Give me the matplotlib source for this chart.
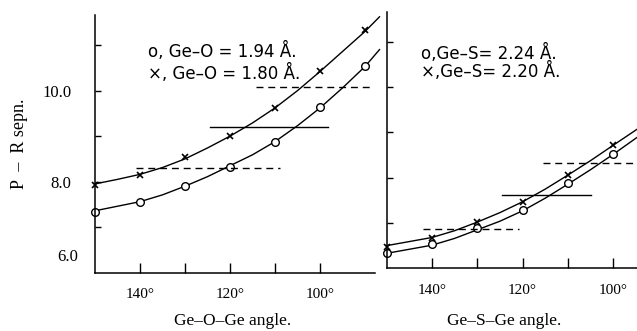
import matplotlib.pyplot as plt

# Ge-O-Ge panel: markers
geo_angle = [150, 140, 130, 120, 110, 100, 90]
geo_194 = [7.34, 7.56, 7.91, 8.33, 8.88, 9.64, 10.53]
geo_180 = [7.93, 8.15, 8.54, 9.00, 9.61, 10.42, 11.32]
# smooth curves
geo_curve_angle = [150, 145, 140, 135, 130, 125, 120, 115, 110, 105, 100, 95, 90, 86.8]
geo_curve_194 = [7.36, 7.46, 7.56, 7.71, 7.90, 8.11, 8.35, 8.59, 8.88, 9.23, 9.62,
                 10.06, 10.53, 10.90]
geo_curve_180 = [7.95, 8.05, 8.16, 8.31, 8.50, 8.74, 9.00, 9.29, 9.62, 10.00, 10.42,
                 10.86, 11.30, 11.62]
# horizontal levels (value, from angle, to angle)
geo_level = [8.31, 9.21, 10.07]
geo_level_from = [141, 124.4, 114.3]
geo_level_to = [109, 98.2, 88.9]

# Ge-S-Ge panel
ges_angle = [150, 140, 130, 120, 110, 100]
ges_224 = [6.33, 6.54, 6.88, 7.29, 7.89, 8.52]
ges_220 = [6.48, 6.68, 7.03, 7.47, 8.06, 8.72]
ges_curve_angle = [150, 145, 140, 135, 130, 125, 120, 115, 110, 105, 100, 94.8]
ges_curve_224 = [6.33, 6.42, 6.51, 6.66, 6.85, 7.04, 7.27, 7.55, 7.86, 8.18, 8.52, 8.89]
ges_curve_220 = [6.50, 6.59, 6.68, 6.83, 7.02, 7.23, 7.47, 7.75, 8.06, 8.38, 8.72, 9.07]
ges_level = [6.86, 7.62, 8.33]
ges_level_from = [141.9, 124.6, 115.6]
ges_level_to = [120.7, 105, 94.8]

W, H = 637, 331
fig = plt.figure(figsize=(W / 100, H / 100), dpi=100)

serif = 'Liberation Serif'
sans = 'DejaVu Sans'

ax1 = fig.add_axes([95 / W, 1 - 272.7 / H, 280 / W, 257.7 / H])
ax2 = fig.add_axes([386.5 / W, 1 - 268.3 / H, 250.5 / W, 256.3 / H])

level_styles = [(0, (5, 3.5)), '-', (0, (5, 3.5))]


def panel(ax, ang, v1, v2, cang, c1, c2, lev, lfrom, lto, xmin):
    ax.plot(cang, c1, color='black', lw=1.0, clip_on=False)
    ax.plot(cang, c2, color='black', lw=1.0, clip_on=False)
    ax.plot(ang, v1, ls='none', marker='o', ms=5.5, mfc='white', mec='black',
            mew=1.0, clip_on=False)
    ax.plot(ang, v2, ls='none', marker='x', ms=5, mec='black', mew=1.2,
            clip_on=False)
    for y, a, b, st in zip(lev, lfrom, lto, level_styles):
        ax.plot([a, b], [y, y], color='black', lw=1.0, ls=st, clip_on=False)
    ax.set_xlim(150, xmin)
    ax.set_ylim(6.0, 11.66)
    ax.spines['top'].set_visible(False)
    ax.spines['right'].set_visible(False)
    for s in ('left', 'bottom'):
        ax.spines[s].set_linewidth(1.1)
    ax.set_xticks([140, 130, 120, 110, 100])
    ax.set_xticklabels(['140°', '', '120°', '', '100°'], family=serif, fontsize=11)
    ax.set_yticks([7, 8, 9, 10, 11])
    ax.tick_params(axis='x', direction='in', length=7, width=1.0, pad=11)
    ax.tick_params(axis='y', direction='in', length=4, width=1.0, pad=17)


panel(ax1, geo_angle, geo_194, geo_180, geo_curve_angle, geo_curve_194,
      geo_curve_180, geo_level, geo_level_from, geo_level_to, 87.8)
panel(ax2, ges_angle, ges_224, ges_220, ges_curve_angle, ges_curve_224,
      ges_curve_220, ges_level, ges_level_from, ges_level_to, 94.8)

ax1.set_yticklabels(['', '8.0', '', '10.0', ''], family=serif, fontsize=12)
ax1.text(-17 / 280, 6.35, '6.0', transform=ax1.get_yaxis_transform(),
         ha='right', va='center', family=serif, fontsize=12)
ax2.set_yticklabels([])

ax1.set_ylabel('P  –  R sepn.', family=serif, fontsize=13)
ax1.yaxis.set_label_coords(-67 / 280, 0.5)
ax1.set_xlabel('Ge–O–Ge angle.', family=serif, fontsize=12.5)
ax1.xaxis.set_label_coords(0.49, -40 / 257.7)
ax2.set_xlabel('Ge–S–Ge angle.', family=serif, fontsize=12.5)
ax2.xaxis.set_label_coords(0.47, -44.5 / 256.3)

legend_size = 12
fig.text(148 / W, 1 - 51.7 / H, 'o, Ge–O = 1.94 Å.', family=sans, fontsize=legend_size,
         va='center', ha='left')
fig.text(148 / W, 1 - 73.3 / H, '×, Ge–O = 1.80 Å.', family=sans, fontsize=legend_size,
         va='center', ha='left')
fig.text(421 / W, 1 - 53.3 / H, 'o,Ge–S= 2.24 Å.', family=sans, fontsize=legend_size,
         va='center', ha='left')
fig.text(421 / W, 1 - 71.7 / H, '×,Ge–S= 2.20 Å.', family=sans, fontsize=legend_size,
         va='center', ha='left')

fig.savefig('out.png', dpi=100)
